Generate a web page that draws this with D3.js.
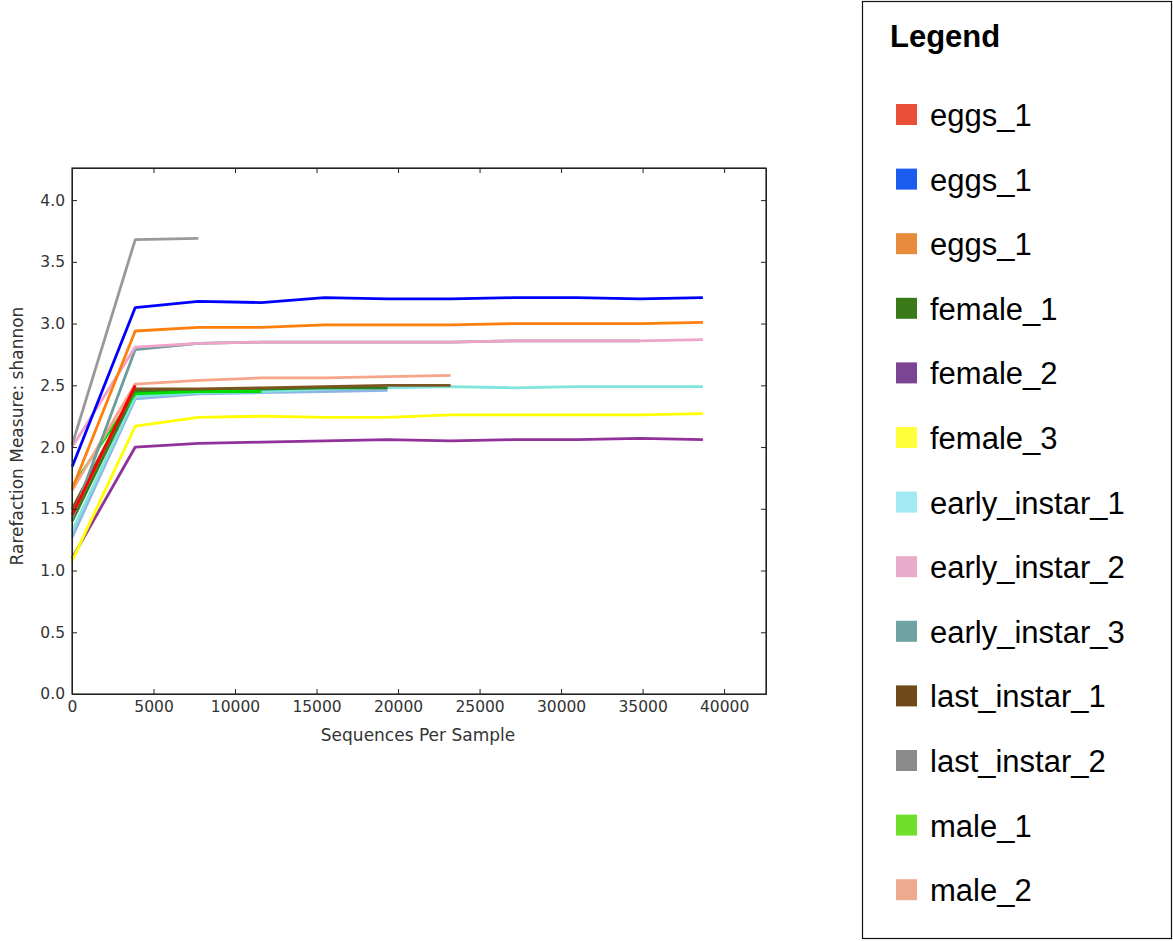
<!DOCTYPE html>
<html>
<head>
<meta charset="utf-8">
<script src="https://cdn.jsdelivr.net/npm/d3@7"></script>
<style>
  body { margin: 0; background: #fff; }
  .axis text { font-family: "DejaVu Sans", sans-serif; font-size: 15.5px; fill: #333; }
  .axis path, .axis line { stroke: #222; }
</style>
</head>
<body>
<div id="chart"></div>
<script>
// rarefaction depths (x)
var depths = [10, 3879, 7748, 11617, 15486, 19355, 23224, 27093, 30962, 34831, 38700];

// shannon values per sample (shorter arrays stop early)
var female_2       = [1.10, 2.00, 2.03, 2.04, 2.05, 2.06, 2.05, 2.06, 2.06, 2.07, 2.06];
var female_3       = [1.08, 2.17, 2.24, 2.25, 2.24, 2.24, 2.26, 2.26, 2.26, 2.26, 2.27];
var extra_blue     = [1.27, 2.39, 2.43, 2.44, 2.45, 2.46];
var early_instar_1 = [1.32, 2.41, 2.44, 2.45, 2.47, 2.48, 2.49, 2.48, 2.49, 2.49, 2.49];
var female_1       = [1.40, 2.45, 2.46, 2.47, 2.48, 2.48];
var male_1         = [1.68, 2.43, 2.45, 2.45];
var last_instar_1  = [1.50, 2.47, 2.47, 2.48, 2.49, 2.50, 2.50];
var male_2         = [1.65, 2.51, 2.54, 2.56, 2.56, 2.57, 2.58];
var early_instar_3 = [1.42, 2.79, 2.84, 2.85, 2.85, 2.85, 2.85, 2.86, 2.86, 2.86];
var early_instar_2 = [2.00, 2.81, 2.84, 2.85, 2.85, 2.85, 2.85, 2.86, 2.86, 2.86, 2.87];
var eggs_orange    = [1.66, 2.94, 2.97, 2.97, 2.99, 2.99, 2.99, 3.00, 3.00, 3.00, 3.01];
var eggs_blue      = [1.84, 3.13, 3.18, 3.17, 3.21, 3.20, 3.20, 3.21, 3.21, 3.20, 3.21];
var eggs_red       = [1.45, 2.50];
var last_instar_2  = [2.02, 3.68, 3.69];

// draw order (bottom to top) and line colours
var lineSeries = [female_2, female_3, extra_blue, early_instar_1, female_1, male_1, last_instar_1,
                  male_2, early_instar_3, early_instar_2, eggs_orange, eggs_blue, eggs_red, last_instar_2];
var lineColors = ["#91309a", "#ffff00", "#8db4e2", "#7fe5dd", "#2e7d1e", "#00e000", "#7a5520",
                  "#f7a58a", "#6c9c9c", "#efa3c8", "#ff7f0e", "#0000ff", "#ff0000", "#999999"];

// legend as shown in the picture
var legendNames = ["eggs_1", "eggs_1", "eggs_1", "female_1", "female_2", "female_3", "early_instar_1",
                   "early_instar_2", "early_instar_3", "last_instar_1", "last_instar_2", "male_1", "male_2"];
var legendColors = ["#ea5038", "#1a5cf0", "#e98b3c", "#3b7a18", "#7b4593", "#ffff3a", "#a3e9f1",
                    "#eaabcb", "#6fa3a3", "#6e4a1a", "#8a8a8a", "#6fe02a", "#eeaa8e"];

var xTicks = [0, 5000, 10000, 15000, 20000, 25000, 30000, 35000, 40000];
var yTicks = [0, 0.5, 1.0, 1.5, 2.0, 2.5, 3.0, 3.5, 4.0];

var W = 1173, H = 941;
var plot = {left: 72, top: 168, right: 766, bottom: 694};

var svg = d3.select("#chart").append("svg")
    .attr("width", W).attr("height", H);

var x = d3.scaleLinear().domain([0, 42570]).range([plot.left, plot.right]);
var y = d3.scaleLinear().domain([0, 4.26]).range([plot.bottom, plot.top]);

var line = d3.line()
    .x(function(d, i) { return x(depths[i]); })
    .y(function(d) { return y(d); });

svg.append("defs").append("filter").attr("id", "soft")
    .append("feGaussianBlur").attr("stdDeviation", 0.4);

svg.append("g").attr("filter", "url(#soft)")
    .selectAll("path")
    .data(lineSeries)
    .enter().append("path")
    .attr("d", line)
    .attr("fill", "none")
    .attr("stroke", function(d, i) { return lineColors[i]; })
    .attr("stroke-width", 2.8)
    .attr("stroke-linejoin", "round");

// axes, matplotlib classic style: ticks inside on all four sides
var fmtY = d3.format(".1f");
svg.append("g").attr("class", "axis")
    .attr("transform", "translate(0," + plot.bottom + ")")
    .call(d3.axisBottom(x).tickValues(xTicks).tickSizeInner(-5).tickSizeOuter(0).tickPadding(7).tickFormat(d3.format("d")));
svg.append("g").attr("class", "axis")
    .attr("transform", "translate(0," + plot.top + ")")
    .call(d3.axisTop(x).tickValues(xTicks).tickSizeInner(-5).tickSizeOuter(0).tickFormat(""));
svg.append("g").attr("class", "axis")
    .attr("transform", "translate(" + plot.left + ",0)")
    .call(d3.axisLeft(y).tickValues(yTicks).tickSizeInner(-5).tickSizeOuter(0).tickPadding(7).tickFormat(fmtY));
svg.append("g").attr("class", "axis")
    .attr("transform", "translate(" + plot.right + ",0)")
    .call(d3.axisRight(y).tickValues(yTicks).tickSizeInner(-5).tickSizeOuter(0).tickFormat(""));

svg.append("rect")
    .attr("x", plot.left).attr("y", plot.top)
    .attr("width", plot.right - plot.left).attr("height", plot.bottom - plot.top)
    .attr("fill", "none").attr("stroke", "#222").attr("stroke-width", 1.2);

svg.append("text")
    .attr("x", (plot.left + plot.right) / 2 - 1).attr("y", 741)
    .attr("text-anchor", "middle")
    .style("font-family", "DejaVu Sans, sans-serif").style("font-size", "17px").style("fill", "#333")
    .text("Sequences Per Sample");

svg.append("text")
    .attr("transform", "translate(23,436) rotate(-90)")
    .attr("text-anchor", "middle")
    .style("font-family", "DejaVu Sans, sans-serif").style("font-size", "17px").style("fill", "#333")
    .text("Rarefaction Measure: shannon");

// legend panel
var lg = svg.append("g");
lg.append("rect")
    .attr("x", 862.5).attr("y", 1.5).attr("width", 309).attr("height", 937)
    .attr("fill", "#fff").attr("stroke", "#111").attr("stroke-width", 1.2);
lg.append("text")
    .attr("x", 890).attr("y", 47)
    .style("font-family", "Liberation Sans, Arial, sans-serif").style("font-size", "31px").style("font-weight", "bold")
    .text("Legend");

var item = lg.selectAll(".item")
    .data(legendNames)
    .enter().append("g")
    .attr("class", "item")
    .attr("transform", function(d, i) { return "translate(0," + (115 + i * 64.6) + ")"; });
item.append("rect")
    .attr("x", 896).attr("y", -11).attr("width", 21).attr("height", 21)
    .attr("fill", function(d, i) { return legendColors[i]; });
item.append("text")
    .attr("x", 930).attr("y", 11)
    .style("font-family", "Liberation Sans, Arial, sans-serif").style("font-size", "31px")
    .text(function(d) { return d; });
</script>
</body>
</html>
